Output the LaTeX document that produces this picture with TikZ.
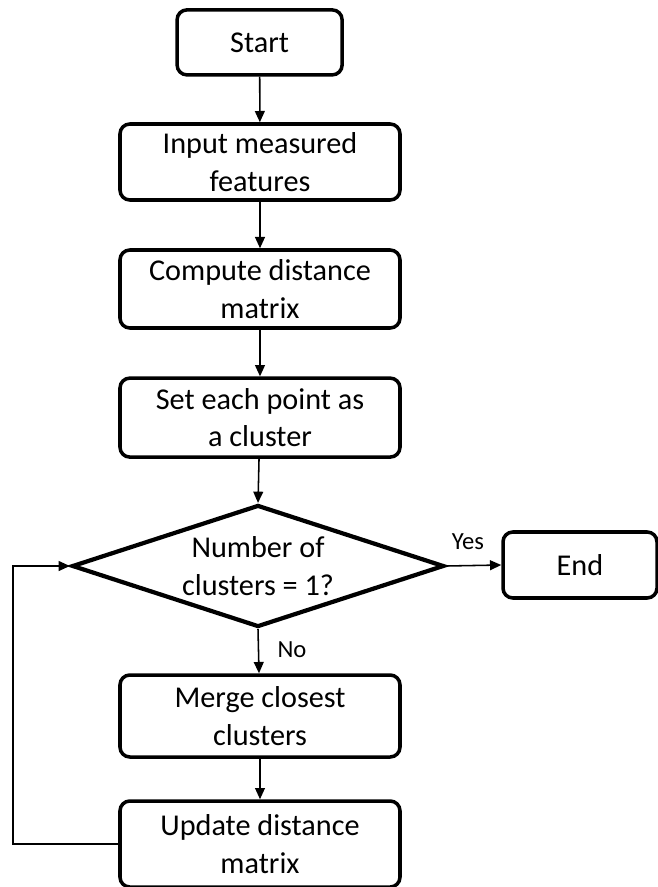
\documentclass[tikz,border=0pt]{standalone}
\usepackage{fontspec}
\setmainfont{Carlito}
\usetikzlibrary{arrows.meta}
\usetikzlibrary{shapes.geometric}

\begin{document}
\begin{tikzpicture}[
    every node/.style={font=\fontsize{21.5}{27}\selectfont, align=center},
    procbox/.style={draw, line width=2.5pt, rounded corners=7pt, minimum width=7cm},
    decbox/.style={draw, diamond, line width=3pt, aspect=3.05, inner sep=0pt,
      minimum width=9.3cm, minimum height=3.05cm},
    flow/.style={-{Triangle[length=8pt,width=7pt]}, line width=1.1pt},
    lbl/.style={font=\fontsize{17.5}{21}\selectfont},
  ]
    \useasboundingbox (0,0) rectangle (16.425,-22.175);
    % \draw[red] (0,0) rectangle (16.425,-22.175);
    \node[procbox, minimum width=4.125cm, minimum height=1.625cm] (start) at (6.49,-1.06) {Start};
    \node[procbox, minimum height=1.9cm] (input) at (6.5,-4.05) {Input measured\\features};
    \node[procbox, minimum height=1.95cm] (dist) at (6.5,-7.225) {Compute distance\\matrix};
    \node[procbox, minimum height=1.975cm] (init) at (6.5,-10.44) {Set each point as\\a cluster};
    \node[decbox] (check) at (6.45,-14.15) {Number of\\clusters = 1?};
    \node[procbox, minimum width=3.85cm, minimum height=1.65cm] (stop) at (14.5,-14.125) {End};
    \node[procbox, minimum height=2.05cm] (merge) at (6.5,-17.9) {Merge closest\\clusters};
    \node[procbox, minimum height=2.15cm] (update) at (6.5,-21.1) {Update distance\\matrix};
    \coordinate (back) at (0.325,-21.1);

    \draw[flow] (start) -- (input);
    \draw[flow] (input) -- (dist);
    \draw[flow] (dist) -- (init);
    \draw[flow] (init) -- (check.north);
    \draw[flow] (check.east) -- (stop.west);
    \draw[flow] (check.south) -- (merge);
    \draw[flow] (merge) -- (update);
    \draw[flow] (update.west) -- (back) |- (check.west);
    \node[lbl] (yes) at (11.7,-13.55) {Yes};
    \node[lbl] (no) at (7.3,-16.25) {No};
  \end{tikzpicture}
\end{document}
